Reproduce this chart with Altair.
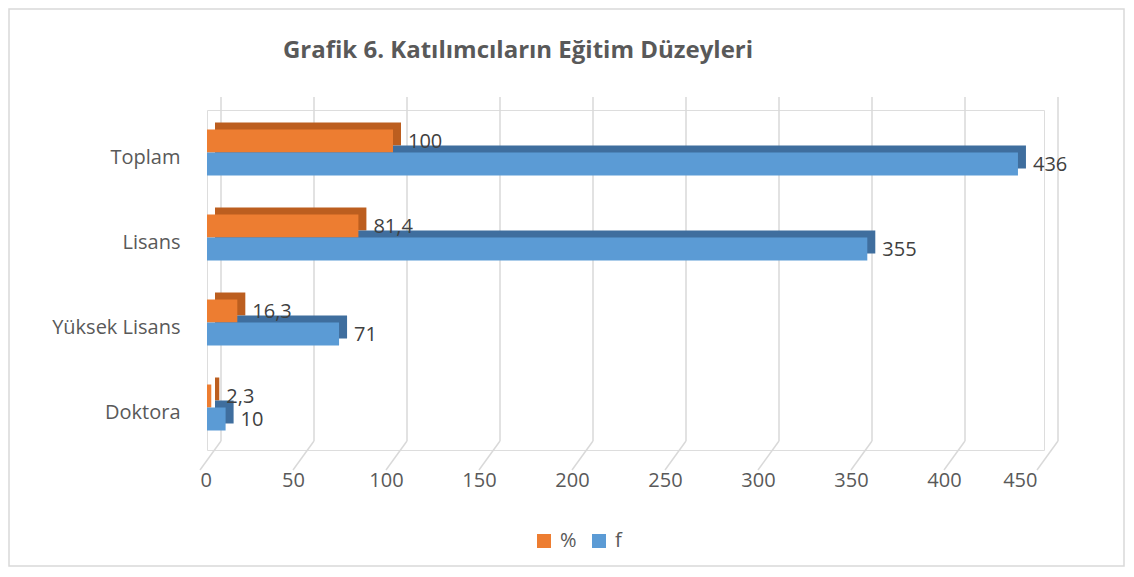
import altair as alt
import pandas as pd

categories = ["Toplam", "Lisans", "Yüksek Lisans", "Doktora"]
pct_values = [100, 81.4, 16.3, 2.3]
f_values = [436, 355, 71, 10]
series_names = ["%", "f"]
tick_values = [0, 50, 100, 150, 200, 250, 300, 350, 400, 450]
title_text = "Grafik 6. Katılımcıların Eğitim Düzeyleri"

rows = []
for c, p, f in zip(categories, pct_values, f_values):
    rows.append({"cat": c, "series": "%", "value": p, "label": f"{p:g}".replace(".", ",")})
    rows.append({"cat": c, "series": "f", "value": f, "label": f"{f:g}".replace(".", ",")})
df = pd.DataFrame(rows)
ticks_df = pd.DataFrame({"v": tick_values})
one_df = pd.DataFrame({"t": [title_text]})

FONT = "Open Sans"
ORANGE = "#ED7D31"
BLUE = "#5B9BD5"
ORANGE_D = "#BC5E1F"
BLUE_D = "#3F6E9E"
GRID = "#D9D9D9"
H = 340
DEPTH = 7

xscale = alt.Scale(domain=[0, 450], nice=False, zero=True)
yscale = alt.Scale(domain=categories, paddingInner=0, paddingOuter=0)
yscale_back = alt.Scale(domain=categories, range=[-DEPTH, H - DEPTH], paddingInner=0, paddingOuter=0)
yoff = alt.YOffset("series:N", scale=alt.Scale(domain=series_names, paddingInner=0, paddingOuter=0.848))

frame = alt.Chart(one_df).mark_rect(fill=None, stroke=GRID, strokeWidth=1.5).encode(
    x=alt.value(-198), x2=alt.value(917), y=alt.value(-101), y2=alt.value(456)
)

title = alt.Chart(one_df).mark_text(font=FONT, fontSize=24, fontWeight="bold", color="#595959",
                                    align="center", baseline="middle").encode(
    x=alt.value(311), y=alt.value(-59), text="t:N"
)

grid_v = alt.Chart(ticks_df).mark_rule(color=GRID, strokeWidth=1.5, xOffset=14, x2Offset=14).encode(
    x=alt.X("v:Q", scale=xscale,
            axis=alt.Axis(values=tick_values, title=None, grid=False, ticks=False, domain=False,
                          labelOffset=-7, labelFontSize=20, labelFont=FONT, labelColor="#595959",
                          labelPadding=20)),
    x2="v:Q",
    y=alt.value(-13), y2=alt.value(331),
)
grid_d = alt.Chart(ticks_df).mark_rule(color=GRID, strokeWidth=1.5, xOffset=14, x2Offset=-7).encode(
    x=alt.X("v:Q", scale=xscale), x2="v:Q",
    y=alt.value(331), y2=alt.value(360),
)

yaxis = alt.Axis(title=None, ticks=False, domain=False, grid=False, labelFontSize=20, labelFont=FONT,
                 labelColor="#595959", labelPadding=27, labelOffset=5)

back = alt.Chart(df).mark_bar(xOffset=8, x2Offset=8).encode(
    x=alt.X("value:Q", scale=xscale),
    y=alt.Y("cat:N", scale=yscale_back, axis=None, sort=categories),
    yOffset=yoff,
    color=alt.condition(alt.datum.series == "%", alt.value(ORANGE_D), alt.value(BLUE_D)),
)

front = alt.Chart(df).mark_bar().encode(
    x=alt.X("value:Q", scale=xscale),
    y=alt.Y("cat:N", scale=yscale, axis=yaxis, sort=categories),
    yOffset=yoff,
    color=alt.Color("series:N", scale=alt.Scale(domain=series_names, range=[ORANGE, BLUE]),
                    legend=alt.Legend(title=None, orient="none", legendX=327, legendY=421,
                                      direction="horizontal", symbolType="square", symbolSize=196,
                                      symbolStrokeWidth=0, labelFontSize=20, labelFont=FONT,
                                      labelColor="#595959", columnPadding=12, labelOffset=6)),
)

labels = alt.Chart(df).mark_text(align="left", baseline="middle", dx=15, dy=1, fontSize=20,
                                 font=FONT, color="#404040").encode(
    x=alt.X("value:Q", scale=xscale),
    y=alt.Y("cat:N", scale=yscale, sort=categories),
    yOffset=yoff,
    text="label:N",
)

bars_back = alt.layer(grid_v, grid_d, back)
bars_front = alt.layer(front, labels)

chart = alt.layer(frame, title, bars_back, bars_front).resolve_scale(y="independent").properties(
    width=837, height=H,
    autosize=alt.AutoSizeParams(type="none"),
    padding={"left": 199, "top": 102, "right": 82, "bottom": 117},
).configure_view(stroke=None).configure(background="white")

chart.save("out.html", embed_options={"renderer": "svg", "actions": False})
